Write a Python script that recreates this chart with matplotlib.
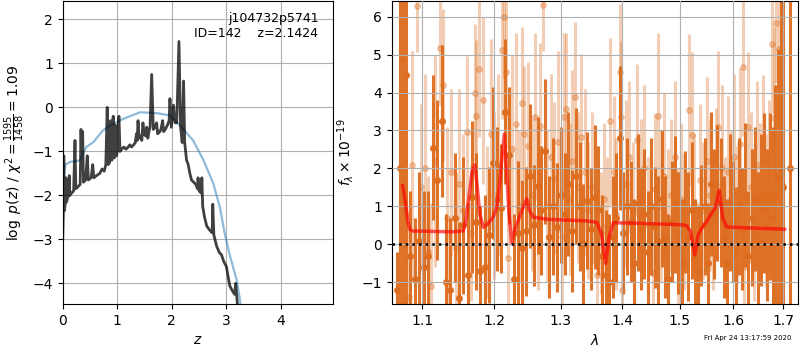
import matplotlib
matplotlib.use("Agg")
import matplotlib.pyplot as plt
from matplotlib.ticker import NullLocator

# --- left panel: log p(z) ---
pz_z = [0.000, 0.010, 0.020, 0.030, 0.045, 0.060, 0.070, 0.090, 0.110, 0.120,
        0.130, 0.160, 0.200, 0.225, 0.240, 0.280, 0.320, 0.335, 0.350, 0.365,
        0.380, 0.420, 0.450, 0.470, 0.520, 0.550, 0.570, 0.620, 0.680, 0.720,
        0.760, 0.790, 0.815, 0.835, 0.860, 0.880, 0.900, 0.925, 0.945, 0.965,
        0.985, 1.000, 1.030, 1.050, 1.080, 1.120, 1.160, 1.200, 1.230, 1.260,
        1.300, 1.330, 1.350, 1.365, 1.380, 1.400, 1.430, 1.450, 1.470, 1.490,
        1.520, 1.540, 1.560, 1.580, 1.600, 1.630, 1.660, 1.690, 1.720, 1.740,
        1.780, 1.800, 1.830, 1.850, 1.880, 1.920, 1.950, 1.965, 1.990, 2.030,
        2.060, 2.090, 2.130, 2.160, 2.190, 2.215, 2.235, 2.270, 2.300, 2.330,
        2.360, 2.400, 2.440, 2.470, 2.480, 2.500, 2.540, 2.550, 2.565, 2.600,
        2.640, 2.700, 2.740, 2.750, 2.770, 2.820, 2.870, 2.910, 2.950, 3.000,
        3.060, 3.100, 3.150, 3.170, 3.190, 3.210]
pz_logp = [-3.0, -2.45, -1.10, -2.35, -2.2, -1.6, -2.15, -2.05, -2.0, -1.55,
           -2.0, -1.95, -1.9, -0.75, -1.85, -1.8, -1.75, -0.5, -1.4, -0.55,
           -1.7, -1.65, -1.1, -1.65, -1.6, -1.3, -1.6, -1.55, -1.5, -1.4,
           -1.45, -1.3, 0.0, -1.3, -1.25, -0.3, -1.2, -0.2, -1.15, -0.4,
           -1.1, -1.0, -0.2, -1.0, -0.95, -0.9, -0.95, -0.9, -0.85, -0.9,
           -0.85, -0.8, -0.6, -0.75, -0.3, -0.7, -0.65, -0.75, -0.35, -0.6,
           -0.65, -0.45, -0.7, -0.55, -0.45, 0.75, -0.5, -0.45, -0.35, -0.6,
           -0.55, -0.5, -0.3, -0.55, -0.5, -0.4, -0.3, 0.2, -0.45, 0.05,
           -0.35, -0.35, 1.5, -0.45, -0.8, 0.6, -0.8, -1.2, -1.3, -1.5,
           -1.65, -1.7, -1.75, -1.85, -1.6, -1.9, -1.95, -1.6, -2.25, -2.5,
           -2.7, -2.8, -2.85, -2.2, -2.9, -3.15, -3.3, -3.35, -3.5, -3.62,
           -4.05, -4.15, -4.25, -4.0, -4.3, -4.6]

prior_z = [0.0, 0.02, 0.05, 0.13, 0.25, 0.32, 0.43, 0.56, 0.74, 0.87,
           1.11, 1.42, 1.72, 1.96, 2.15, 2.39, 2.58, 2.76, 2.88, 2.97,
           3.07, 3.19, 3.25, 3.28]
prior_logp = [-1.8, -1.5, -1.3, -1.24, -1.22, -1.2, -0.9, -0.79, -0.52, -0.41,
              -0.26, -0.11, -0.13, -0.18, -0.41, -0.75, -1.2, -1.73, -2.27, -2.87,
              -3.4, -3.93, -4.39, -4.7]

# --- right panel: spectrum ---
# lighter points
light_wave = [1.078, 1.082, 1.087, 1.093, 1.098, 1.103, 1.108, 1.112, 1.117, 1.124,
              1.128, 1.133, 1.139, 1.145, 1.150, 1.155, 1.161, 1.166, 1.172, 1.174,
              1.178, 1.184, 1.190, 1.195, 1.200, 1.205, 1.211, 1.214, 1.217, 1.220,
              1.225, 1.231, 1.236, 1.240, 1.244, 1.250, 1.255, 1.260, 1.264, 1.268,
              1.272, 1.278, 1.284, 1.290, 1.296, 1.302, 1.305, 1.308, 1.314, 1.318,
              1.323, 1.328, 1.332, 1.338, 1.344, 1.350, 1.358, 1.364, 1.370, 1.375,
              1.379, 1.386, 1.390, 1.396, 1.398, 1.400, 1.406, 1.412, 1.418, 1.425,
              1.432, 1.438, 1.444, 1.452, 1.456, 1.461, 1.467, 1.473, 1.479, 1.485,
              1.491, 1.497, 1.503, 1.509, 1.518, 1.522, 1.527, 1.533, 1.538, 1.544,
              1.550, 1.556, 1.562, 1.567, 1.572, 1.578, 1.584, 1.590, 1.596, 1.602,
              1.608, 1.614, 1.620, 1.622, 1.629, 1.635, 1.641, 1.647, 1.653, 1.659,
              1.665, 1.670, 1.676, 1.680, 1.686, 1.692, 1.698]
light_flux = [0.8, -1.38, 2.1, 6.27, 1.5, 2.0, -0.2, -1.1, 2.2, 5.18,
              4.2, 0.7, 1.9, -0.1, 1.6, 0.9, 2.95, 0.3, 4.0, 3.38,
              4.63, 3.8, 0.6, 2.9, 1.3, 2.1, 5.11, 5.99, 4.54, -0.36,
              2.5, 3.16, 1.0, 3.72, 2.9, 2.6, 1.3, 3.36, 0.6, 3.11,
              6.3, 1.0, 2.3, 1.75, 2.7, 0.2, 3.36, 3.56, 1.2, 2.2,
              3.87, 1.5, 2.82, 1.9, 0.9, 1.5, -0.8, 0.3, 1.2, 0.5,
              3.24, 1.9, 0.8, 4.53, 3.36, -1.19, 1.6, 2.3, 0.9, 2.74,
              1.3, 2.0, 0.5, -0.76, 1.45, 3.37, 1.0, 1.8, 0.7, 1.3,
              2.3, 0.2, 1.2, 0.6, 3.53, 2.88, 1.1, -0.5, 1.7, 0.9,
              2.2, 1.3, 0.6, 1.6, 3.09, 2.0, 0.5, 1.9, 1.2, 2.3,
              0.8, 2.65, 4.66, -0.59, 3.08, 1.5, 0.3, 2.1, 1.2, 2.25,
              0.9, 1.6, 5.27, 3.32, 5.84, 5.15, 1.6]
light_err = [3.0, 2.0, 3.0, 1.2, 2.2, 2.5, 2.0, 2.2, 2.8, 1.5,
             2.0, 2.4, 2.2, 2.0, 2.5, 2.0, 2.0, 1.8, 1.8, 2.0,
             1.8, 2.2, 2.0, 2.5, 2.2, 2.4, 1.8, 1.6, 2.0, 2.0,
             2.5, 2.4, 2.0, 2.0, 1.8, 2.2, 2.0, 2.2, 1.8, 2.2,
             1.2, 2.0, 2.2, 2.0, 2.4, 1.8, 2.2, 2.0, 2.0, 2.4,
             2.0, 2.0, 2.2, 2.2, 1.8, 2.0, 1.8, 1.6, 2.0, 1.8,
             2.2, 2.0, 2.0, 1.8, 2.0, 1.8, 2.2, 2.0, 1.8, 2.0,
             2.0, 2.2, 1.8, 1.8, 2.0, 2.2, 2.0, 2.2, 1.8, 2.0,
             2.0, 1.8, 2.0, 1.8, 2.0, 2.2, 1.8, 1.6, 2.0, 1.8,
             2.2, 2.0, 1.8, 2.0, 2.0, 2.2, 1.8, 2.0, 1.8, 2.2,
             1.8, 2.0, 1.8, 1.6, 2.0, 2.0, 1.8, 2.2, 2.0, 2.2,
             2.0, 2.2, 1.8, 2.4, 1.6, 2.0, 3.5]

# darker points
dark_wave = [1.067, 1.0715, 1.0747, 1.0785, 1.084, 1.090, 1.096, 1.102, 1.108, 1.114,
             1.120, 1.126, 1.132, 1.138, 1.144, 1.150, 1.156, 1.162, 1.168, 1.174,
             1.180, 1.186, 1.192, 1.198, 1.204, 1.210, 1.216, 1.222, 1.228, 1.234,
             1.240, 1.246, 1.252, 1.258, 1.264, 1.270, 1.276, 1.282, 1.288, 1.294,
             1.300, 1.306, 1.312, 1.318, 1.324, 1.330, 1.336, 1.342, 1.348, 1.354,
             1.360, 1.366, 1.372, 1.378, 1.384, 1.390, 1.396, 1.402, 1.408, 1.414,
             1.420, 1.426, 1.432, 1.438, 1.444, 1.450, 1.456, 1.462, 1.468, 1.474,
             1.480, 1.486, 1.492, 1.498, 1.504, 1.510, 1.516, 1.522, 1.528, 1.534,
             1.540, 1.546, 1.552, 1.558, 1.564, 1.570, 1.576, 1.582, 1.588, 1.594,
             1.600, 1.606, 1.612, 1.618, 1.624, 1.630, 1.636, 1.642, 1.648, 1.654,
             1.660, 1.666, 1.672, 1.678, 1.684, 1.690, 1.696, 1.700, 1.713]
dark_flux = [-1.2, 2.0, 4.88, 4.45, -0.3, -0.9, 0.1, -0.6, -0.3, 2.55,
             1.7, 3.25, -1.0, -1.2, 0.7, -1.4, 0.5, -0.8, 1.25, 0.6,
             -0.7, -0.6, 0.25, 2.15, 1.2, 0.95, 3.5, 2.35, -0.9, 0.3,
             -0.1, 0.35, 1.8, 0.5, 1.55, 0.9, 2.45, 0.2, 1.0, 0.45,
             1.3, 0.8, 1.6, 0.35, 1.8, 1.0, 0.0, 1.15, 0.4, 1.25,
             0.9, -0.3, -0.8, -1.0, 0.2, 0.7, 2.8, 0.3, 1.0, 0.6,
             -0.5, 1.1, 0.4, 0.8, -0.2, 1.0, 0.45, 0.1, 1.2, 0.2,
             -0.9, 0.6, 1.05, 0.3, -0.5, 0.85, 0.2, 0.9, -0.4, -0.7,
             0.5, 1.0, -0.5, 1.6, 0.8, 1.35, 1.1, 0.2, -0.5, 1.1,
             0.6, -0.2, 1.0, 0.4, 1.3, -0.3, 0.7, 1.2, 0.1, 0.9,
             1.35, 0.5, 1.25, 0.7, 1.3, 1.75, 2.0, 1.5, 2.0]
dark_err = [1.0, 10.0, 9.0, 9.0, 1.7, 1.6, 1.8, 2.0, 1.7, 1.9,
            2.1, 2.0, 1.8, 1.9, 1.7, 2.0, 1.8, 1.9, 2.0, 1.8,
            1.7, 1.9, 1.8, 2.0, 1.9, 1.7, 1.9, 1.8, 1.7, 1.9,
            1.8, 1.7, 1.9, 1.6, 1.8, 1.7, 1.9, 1.6, 1.8, 1.7,
            1.8, 1.6, 1.9, 1.6, 1.8, 1.7, 1.6, 1.8, 1.6, 1.9,
            1.7, 1.6, 1.7, 1.8, 1.6, 1.7, 1.9, 1.6, 1.8, 1.6,
            1.7, 1.8, 1.6, 1.7, 1.6, 1.8, 1.6, 1.7, 1.8, 1.6,
            1.7, 1.6, 1.8, 1.6, 1.7, 1.6, 1.7, 1.8, 1.6, 1.7,
            1.6, 1.8, 1.6, 1.9, 1.7, 1.8, 1.7, 1.6, 1.7, 1.8,
            1.6, 1.7, 1.8, 1.6, 1.9, 1.7, 1.8, 1.9, 1.8, 2.0,
            2.1, 2.0, 2.2, 2.4, 2.9, 3.4, 4.4, 8.0, 10.0]

model_wave = [1.0743, 1.078, 1.081, 1.0841, 1.088, 1.100, 1.120, 1.140, 1.1557, 1.160,
              1.164, 1.168, 1.172, 1.175, 1.179, 1.184, 1.191, 1.198, 1.203, 1.207,
              1.211, 1.2143, 1.217, 1.221, 1.225, 1.231, 1.2376, 1.2478, 1.2515, 1.2573,
              1.280, 1.310, 1.340, 1.3576, 1.365, 1.3721, 1.378, 1.3848, 1.420, 1.460,
              1.500, 1.5123, 1.520, 1.5280, 1.5340, 1.5405, 1.550, 1.5591, 1.566, 1.5736,
              1.580, 1.5878, 1.620, 1.660, 1.7026]
model_flux = [1.55, 1.1, 0.6, 0.38, 0.35, 0.35, 0.34, 0.33, 0.36, 0.7,
              1.3, 1.9, 2.1, 1.6, 0.8, 0.45, 0.55, 0.72, 0.95, 1.5,
              2.3, 2.9, 2.2, 0.9, 0.05, 0.45, 0.77, 1.2, 0.9, 0.72,
              0.66, 0.64, 0.62, 0.58, 0.3, -0.5, 0.2, 0.57, 0.56, 0.54,
              0.52, 0.5, 0.35, -0.28, 0.25, 0.42, 0.6, 0.82, 0.95, 1.43,
              0.7, 0.46, 0.44, 0.42, 0.4]

orange = "#dd6c1e"

fig = plt.figure(figsize=(8, 3.5), dpi=100)

# left: redshift probability
ax1 = fig.add_axes([0.0784, 0.1314, 0.3383, 0.8657])
ax1.plot(prior_z, prior_logp, color="#1f77b4", alpha=0.5, lw=1.6)
ax1.plot(pz_z, pz_logp, color="k", alpha=0.75, lw=2)
ax1.set_xlim(0, 4.96)
ax1.set_ylim(-4.47, 2.42)
ax1.set_xticks([0, 1, 2, 3, 4])
ax1.set_yticks([-4, -3, -2, -1, 0, 1, 2])
ax1.grid()
ax1.set_xlabel(r"$z$")
ax1.set_ylabel(r"$\log\ p(z)$" + " / " + r"$\chi^2=\frac{1595}{1458}=1.09$")
ax1.text(0.945, 0.965, "j104732p5741\nID=142    z=2.1424", ha="right", va="top",
         transform=ax1.transAxes, fontsize=9)

# right: 1D spectrum
ax2 = fig.add_axes([0.4896, 0.1314, 0.5083, 0.8657])
ax2.errorbar(light_wave, light_flux, yerr=light_err, marker="o", ms=4,
             linestyle="None", color=orange, alpha=0.33, elinewidth=2.2, zorder=1)
ax2.errorbar(dark_wave, dark_flux, yerr=dark_err, marker="o", ms=4,
             linestyle="None", color=orange, alpha=0.95, elinewidth=2.2, zorder=1.2)
ax2.plot(model_wave, model_flux, color="r", alpha=0.65, lw=2.5, zorder=4)
ax2.axhline(0, color="k", linestyle=":", lw=1.8, zorder=5)
ax2.set_xscale("log")
ax2.set_xlim(1.0602, 1.731)
ax2.set_ylim(-1.57, 6.41)
ax2.set_xticks([1.1, 1.2, 1.3, 1.4, 1.5, 1.6, 1.7])
ax2.set_xticklabels(["1.1", "1.2", "1.3", "1.4", "1.5", "1.6", "1.7"])
ax2.xaxis.set_minor_locator(NullLocator())
ax2.set_yticks([-1, 0, 1, 2, 3, 4, 5, 6])
ax2.set_axisbelow(False)
ax2.grid(zorder=3)
ax2.set_xlabel(r"$\lambda$")
ax2.set_ylabel(r"$f_\lambda\times10^{-19}$")

fig.text(0.935, 0.025, "Fri Apr 24 13:17:59 2020", ha="center", va="bottom", fontsize=5)

fig.savefig("out.png", dpi=100)
